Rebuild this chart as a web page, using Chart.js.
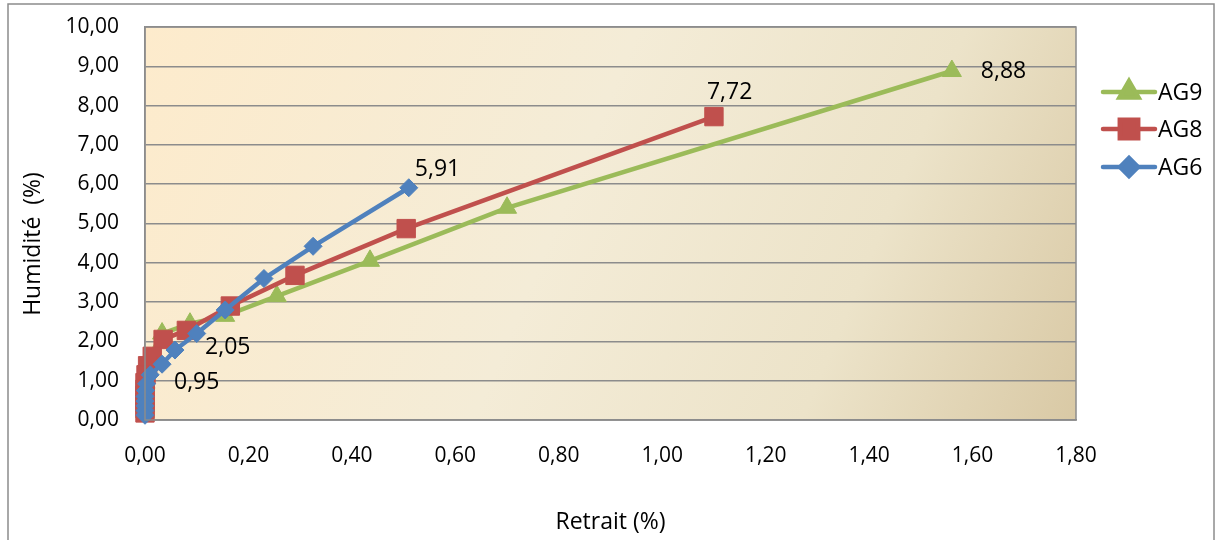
<!DOCTYPE html>
<html>
<head>
<meta charset="utf-8">
<script src="https://cdn.jsdelivr.net/npm/chart.js@4"></script>
<style>
  body { margin: 0; background: #fff; }
  #wrap { width: 1217px; height: 540px; position: relative; }
</style>
</head>
<body>
<div id="wrap"><canvas id="retraitChart"></canvas></div>
<script>
// series values (retrait %, humidité %)
const seriesNames = ['AG9', 'AG8', 'AG6'];
const ag9Retrait = [1.56, 0.70, 0.435, 0.255, 0.155, 0.087, 0.033, 0.005, 0.002, 0.001, 0, 0, 0, 0];
const ag9Humidite = [8.88, 5.40, 4.05, 3.15, 2.65, 2.45, 2.20, 1.50, 1.20, 0.95, 0.75, 0.55, 0.35, 0.20];
const ag8Retrait = [1.10, 0.505, 0.29, 0.165, 0.08, 0.035, 0.014, 0.005, 0.002, 0, 0, 0, 0, 0, 0];
const ag8Humidite = [7.72, 4.87, 3.68, 2.90, 2.28, 2.05, 1.62, 1.38, 1.15, 0.95, 0.78, 0.62, 0.46, 0.32, 0.18];
const ag6Retrait = [0.51, 0.325, 0.23, 0.155, 0.10, 0.058, 0.033, 0.01, 0.003, 0.001, 0, 0, 0, 0, 0];
const ag6Humidite = [5.91, 4.42, 3.60, 2.80, 2.20, 1.78, 1.42, 1.15, 0.92, 0.75, 0.60, 0.48, 0.36, 0.24, 0.12];

const xTicks = [0, 0.2, 0.4, 0.6, 0.8, 1.0, 1.2, 1.4, 1.6, 1.8];
const yTicks = [0, 1, 2, 3, 4, 5, 6, 7, 8, 9, 10];

// which points carry a value label: [dataset index, point index]
const labelledPoints = [[0, 0], [1, 0], [2, 0], [1, 5], [1, 9]];
const labelOffsets = [[29, 0], [-7, -24], [6, -18], [42, 8], [29, 0]];

const FONT = '"Open Sans", Lato, sans-serif';
const fmt = v => v.toFixed(2).replace('.', ',');
const pairs = (xs, ys) => xs.map((x, i) => ({ x: x, y: ys[i] }));

const colors = ['#9BBB59', '#C0504D', '#4F81BD'];
const styles = [
    { pointStyle: 'triangle', radius: 11 },
    { pointStyle: 'rect', radius: 13 },
    { pointStyle: 'rectRot', radius: 9 }
];

const plotBackground = {
    id: 'plotBackground',
    beforeDraw(chart) {
        const { ctx, chartArea: a } = chart;
        ctx.save();
        // outer chart frame
        ctx.strokeStyle = '#8c8c8c';
        ctx.lineWidth = 1.5;
        ctx.strokeRect(8, 4, 1206, 560);
        const g = ctx.createLinearGradient(a.left, a.top, a.right, a.bottom);
        g.addColorStop(0, '#FDEBCC');
        g.addColorStop(0.45, '#F4ECD7');
        g.addColorStop(0.75, '#ECE3C9');
        g.addColorStop(1, '#D9C9A5');
        ctx.fillStyle = g;
        ctx.fillRect(a.left, a.top, a.right - a.left, a.bottom - a.top);
        // y axis title
        ctx.translate(33, 244);
        ctx.rotate(-Math.PI / 2);
        ctx.fillStyle = '#000';
        ctx.font = '23px ' + FONT;
        ctx.textAlign = 'center';
        ctx.textBaseline = 'middle';
        ctx.fillText('Humidité  (%)', 0, 0);
        ctx.restore();
    },
    afterDatasetsDraw(chart) {
        const { ctx, chartArea: a } = chart;
        ctx.save();
        ctx.strokeStyle = '#8c8c8c';
        ctx.lineWidth = 1.5;
        ctx.strokeRect(a.left, a.top, a.right - a.left, a.bottom - a.top);
        ctx.restore();
    }
};

const valueLabels = {
    id: 'valueLabels',
    afterDatasetsDraw(chart) {
        const ctx = chart.ctx;
        ctx.save();
        ctx.font = '23px ' + FONT;
        ctx.fillStyle = '#000';
        ctx.textAlign = 'left';
        ctx.textBaseline = 'middle';
        labelledPoints.forEach(([d, i], k) => {
            const pt = chart.getDatasetMeta(d).data[i];
            const v = chart.data.datasets[d].data[i].y;
            ctx.fillText(fmt(v), pt.x + labelOffsets[k][0], pt.y + labelOffsets[k][1]);
        });
        ctx.restore();
    }
};

const lineLegend = {
    id: 'lineLegend',
    afterDraw(chart) {
        const ctx = chart.ctx;
        const rows = [92, 129, 167];
        ctx.save();
        seriesNames.forEach((name, i) => {
            const y = rows[i];
            ctx.strokeStyle = colors[i];
            ctx.fillStyle = colors[i];
            ctx.lineWidth = 4.5;
            ctx.lineCap = 'round';
            ctx.beginPath();
            ctx.moveTo(1103, y);
            ctx.lineTo(1155, y);
            ctx.stroke();
            Chart.helpers.drawPoint(ctx, {
                pointStyle: styles[i].pointStyle,
                radius: styles[i].radius,
                rotation: 0,
                borderWidth: 1
            }, 1129, y);
            ctx.fillStyle = '#000';
            ctx.font = '23px ' + FONT;
            ctx.textBaseline = 'middle';
            ctx.fillText(name, 1158, y + 1);
        });
        ctx.restore();
    }
};

const makeSet = (i, xs, ys, order) => ({
    label: seriesNames[i],
    data: pairs(xs, ys),
    showLine: true,
    borderColor: colors[i],
    backgroundColor: colors[i],
    borderWidth: 4.5,
    pointStyle: styles[i].pointStyle,
    pointRadius: styles[i].radius,
    pointHoverRadius: styles[i].radius,
    pointBorderWidth: 1,
    pointBorderColor: colors[i],
    pointBackgroundColor: colors[i],
    clip: false,
    order: order
});

new Chart(document.getElementById('retraitChart'), {
    type: 'scatter',
    data: {
        datasets: [
            makeSet(0, ag9Retrait, ag9Humidite, 2),
            makeSet(1, ag8Retrait, ag8Humidite, 1),
            makeSet(2, ag6Retrait, ag6Humidite, 0)
        ]
    },
    options: {
        responsive: true,
        maintainAspectRatio: false,
        animation: false,
        layout: { padding: { top: 27, right: 141, left: 0, bottom: 0 } },
        plugins: {
            legend: { display: false },
            tooltip: { enabled: false }
        },
        scales: {
            x: {
                type: 'linear',
                min: 0,
                max: 1.8,
                afterBuildTicks: s => { s.ticks = xTicks.map(v => ({ value: v })); },
                afterFit: s => { s.height = 120; s.paddingLeft = 0; s.paddingRight = 0; },
                grid: { display: false, drawTicks: false },
                border: { display: true, color: '#8c8c8c', width: 1.5 },
                ticks: {
                    padding: 23,
                    color: '#000',
                    font: { family: FONT, size: 21 },
                    callback: v => fmt(v)
                },
                title: {
                    display: true,
                    text: 'Retrait (%)',
                    color: '#000',
                    font: { family: FONT, size: 23 },
                    padding: { top: 0, bottom: 4 }
                }
            },
            y: {
                min: 0,
                max: 10,
                afterBuildTicks: s => { s.ticks = yTicks.map(v => ({ value: v })); },
                afterFit: s => { s.width = 145; s.paddingTop = 0; s.paddingBottom = 0; },
                grid: { color: '#8c8c8c', lineWidth: 1.5, drawTicks: false },
                border: { display: true, color: '#8c8c8c', width: 1.5 },
                ticks: {
                    padding: 26,
                    color: '#000',
                    font: { family: FONT, size: 21 },
                    callback: v => fmt(v)
                }
            }
        }
    },
    plugins: [plotBackground, valueLabels, lineLegend]
});
</script>
</body>
</html>
